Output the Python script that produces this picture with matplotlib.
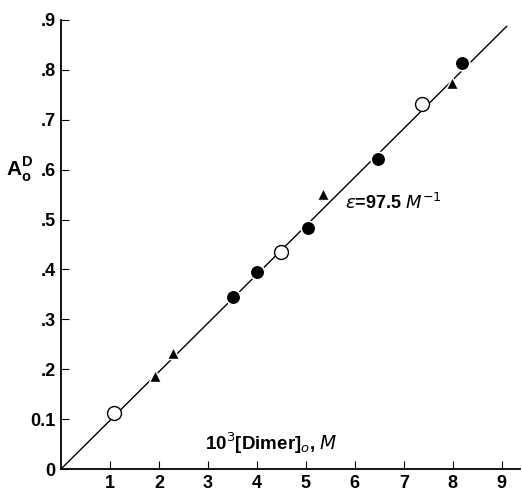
import matplotlib.pyplot as plt

# absorbance of the dimer vs. its concentration (10^3 M)
open_x = [1.08, 4.49, 7.37]
open_y = [0.112, 0.434, 0.732]
filled_x = [3.51, 4.00, 5.04, 6.47, 8.18]
filled_y = [0.344, 0.394, 0.484, 0.622, 0.814]
tri_x = [1.92, 2.29, 5.35, 7.98]
tri_y = [0.186, 0.232, 0.552, 0.774]

epsilon = 97.5
line_x = [0.0, 9.1]

x_ticks = [1, 2, 3, 4, 5, 6, 7, 8, 9]
y_ticks = [0, 0.1, 0.2, 0.3, 0.4, 0.5, 0.6, 0.7, 0.8, 0.9]
y_labels = ['0', '0.1', '.2', '.3', '.4', '.5', '.6', '.7', '.8', '.9']

plt.rcParams['font.family'] = ['Liberation Sans', 'DejaVu Sans']

fig = plt.figure(figsize=(5.22, 4.91), dpi=100)
ax = fig.add_axes([0.1169, 0.0448, 0.879, 0.9145])

line_y = [epsilon * x / 1000.0 for x in line_x]
ax.plot(line_x, line_y, color='black', lw=1.0, zorder=2)

ax.plot(open_x, open_y, 'o', ms=10, mfc='white', mec='black', mew=1.0, zorder=3)
ax.plot(filled_x, filled_y, 'o', ms=10.5, mfc='black', mec='white', mew=1.2, zorder=3)
ax.plot(tri_x, tri_y, '^', ms=9, mfc='black', mec='white', mew=1.0, zorder=3)

ax.set_xlim(0, 9.37)
ax.set_ylim(0, 0.9)
ax.spines['top'].set_visible(False)
ax.spines['right'].set_visible(False)
ax.spines['left'].set_linewidth(1.3)
ax.spines['bottom'].set_linewidth(1.3)

ax.set_xticks(x_ticks)
ax.set_xticklabels([str(v) for v in x_ticks], fontsize=13, fontweight='bold')
ax.set_yticks(y_ticks)
ax.set_yticklabels(y_labels, fontsize=13, fontweight='bold')
ax.tick_params(axis='both', direction='in', length=6, width=0.8, pad=4)

ax.text(5.8, 0.534, r'$\varepsilon$=97.5 $M^{-1}$', fontsize=13, fontweight='bold',
        va='center', ha='left')
ax.text(2.93, 0.052, r'10$^3$[Dimer]$_o$, $M$', fontsize=13.5, fontweight='bold',
        va='center', ha='left')
fig.text(0.012, 0.655, r'A$_\mathregular{o}^\mathregular{D}$', fontsize=15, fontweight='bold',
         va='center', ha='left')

fig.savefig('out.png', dpi=100, facecolor='white')
